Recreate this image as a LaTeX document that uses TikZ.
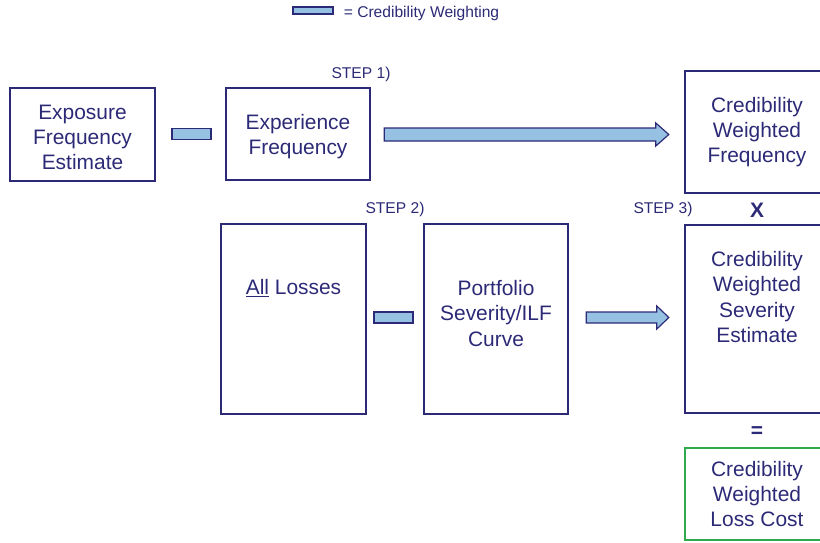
\documentclass[tikz,border=0pt]{standalone}
\usepackage{fontspec}
\setmainfont{Liberation Sans}
\usetikzlibrary{calc}
\definecolor{navy}{RGB}{44,42,118}
\definecolor{wtblue}{RGB}{150,193,226}
\definecolor{lcgreen}{RGB}{46,170,76}
\tikzset{
  box/.style={draw=navy, line width=1.8pt, inner sep=0pt, text=navy, align=center,
    font=\fontsize{15.7}{18.8}\selectfont},
  wtbox/.style={draw=navy, fill=wtblue, line width=0.9pt, inner sep=0pt,
    minimum width=29.25pt, minimum height=7.8pt},
  wtarrow/.style={draw=navy, fill=wtblue, line width=0.9pt, line join=miter},
  steplabel/.style={text=navy, font=\fontsize{11.7}{14}\selectfont, inner sep=0pt},
  opsign/.style={text=navy, font=\fontsize{15.7}{18.8}\selectfont\bfseries, inner sep=0pt},
  boxtext/.style={text=navy, align=center, inner sep=0pt, font=\fontsize{15.7}{18.8}\selectfont}
}
\begin{document}
\begin{tikzpicture}[x=0.75pt,y=0.75pt,yscale=-1,xscale=1]
\clip (0,0) rectangle (820,542);

% legend
\node (legendbox) at (313,10.5) [wtbox, minimum width=30pt, minimum height=5.3pt] {};
\node (legendtext) at (421.5,13.5) [steplabel] {= Credibility Weighting};

% top row
\node (exposure) at (82.5,134.5) [box, minimum width=108.75pt, minimum height=69.75pt] {};
\node (exptext) at (82.5,137) [boxtext] {Exposure\\Frequency\\Estimate};
\node (wt1) at (191.5,134) [wtbox] {};
\node (experience) at (298,134) [box, minimum width=108pt, minimum height=69pt] {};
\node (exrtext) at (298,137) [boxtext] {Experience\\Frequency};
\node (step1) at (361,74) [steplabel] {STEP 1)};
\node (cwfreq) at (757,132) [box, minimum width=108pt, minimum height=91.5pt] {Credibility\\Weighted\\Frequency};

% middle row
\node (alllosses) at (293.5,319) [box, minimum width=108.75pt, minimum height=142.5pt] {};
\node (alltext) at (293.5,288) [boxtext] {\underline{All} Losses};
\node (wt2) at (393.5,317.5) [wtbox, minimum height=8.25pt] {};
\node (portfolio) at (496,319) [box, minimum width=108pt, minimum height=142.5pt] {};
\node (porttext) at (496,313.5) [boxtext] {Portfolio\\Severity/ILF\\Curve};
\node (step2) at (395,209) [steplabel] {STEP 2)};
\node (step3) at (663,209) [steplabel] {STEP 3)};
\node (times) at (757,210) [opsign] {X};
\node (cwsev) at (757,319) [box, minimum width=108pt, minimum height=141pt] {};
\node (sevtext) at (757,297) [boxtext] {Credibility\\Weighted\\Severity\\Estimate};

% bottom
\node (equals) at (757,432) [opsign] {=};
\node (losscost) at (757,494) [box, draw=lcgreen, minimum width=108pt, minimum height=69pt] {Credibility\\Weighted\\Loss Cost};

% weighting arrows
\coordinate (a1s) at ($(experience.east)+(13,0.5)$);
\coordinate (a1t) at ($(cwfreq.west |- a1s)+(-15,0)$);
\draw [wtarrow] ($(a1s)+(0,-6.5)$) -- ($(a1t)+(-13,-6.5)$) -- ($(a1t)+(-13,-11.5)$) -- (a1t)
  -- ($(a1t)+(-13,11.5)$) -- ($(a1t)+(-13,6.5)$) -- ($(a1s)+(0,6.5)$) -- cycle;
\coordinate (a2s) at ($(portfolio.east)+(17,-1.5)$);
\coordinate (a2t) at ($(cwsev.west |- a2s)+(-15,0)$);
\draw [wtarrow] ($(a2s)+(0,-5.5)$) -- ($(a2t)+(-12,-5.5)$) -- ($(a2t)+(-12,-11.5)$) -- (a2t)
  -- ($(a2t)+(-12,11.5)$) -- ($(a2t)+(-12,5.5)$) -- ($(a2s)+(0,5.5)$) -- cycle;

\end{tikzpicture}
\end{document}
